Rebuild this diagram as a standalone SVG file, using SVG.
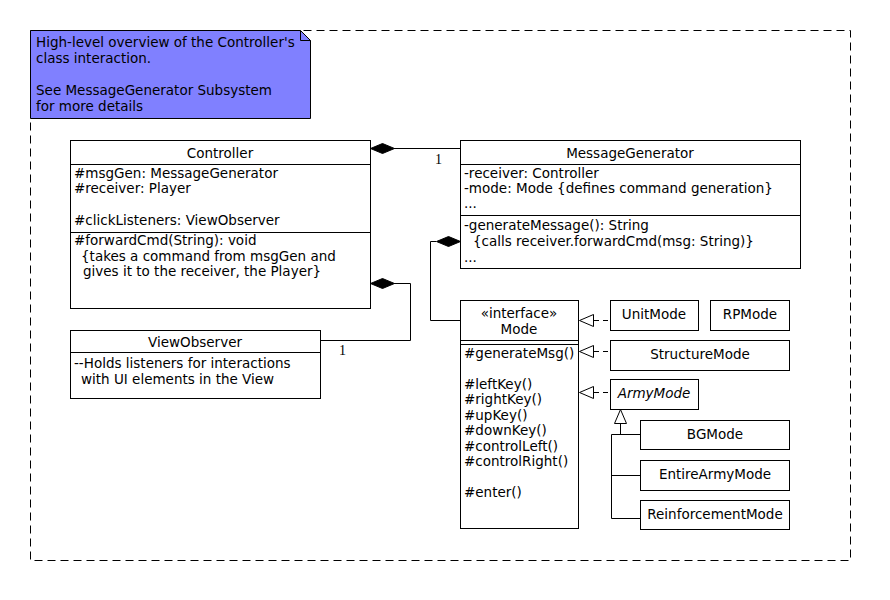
<svg xmlns="http://www.w3.org/2000/svg" width="890" height="600" viewBox="0 0 890 600">
<style>
text{font-family:"DejaVu Sans","Liberation Sans",sans-serif;font-size:13.5px;fill:#000}
.c{text-anchor:middle}
.m{font-family:"Liberation Serif","DejaVu Serif",serif;font-size:14px}
.box{fill:#fff;stroke:#000;stroke-width:1}
.ln{fill:none;stroke:#000;stroke-width:1}
.dash{fill:none;stroke:#000;stroke-width:1;stroke-dasharray:5,4}
.dia{fill:#000;stroke:#000}
.tri{fill:#fff;stroke:#000}
</style>
<rect x="0" y="0" width="890" height="600" fill="#fff"/>
<rect id="frame" x="30.5" y="30.5" width="820" height="530" fill="none" stroke="#000" stroke-dasharray="8,5"/>
<g id="note">
<path d="M30.5 30.5 H300.5 L310.5 40.5 V118.5 H30.5 Z" fill="#8080ff" stroke="#000"/>
<path d="M300.5 30.5 V40.5 H310.5" fill="none" stroke="#000"/>
<text x="36" y="47">High-level overview of the Controller's</text>
<text x="36" y="63">class interaction.</text>
<text x="36" y="95">See MessageGenerator Subsystem</text>
<text x="36" y="111">for more details</text>
</g>
<g id="connectors">
<path class="ln" d="M394 148.5 H460"/>
<path class="dia" d="M370.5 148.5 L382.5 143.5 L394.5 148.5 L382.5 153.5 Z"/>
<text class="m" x="435" y="164">1</text>
<path class="ln" d="M394 283.5 H410.5 V340.5 H320"/>
<path class="dia" d="M370.5 283.5 L382.5 278.5 L394.5 283.5 L382.5 288.5 Z"/>
<text class="m" x="339" y="355">1</text>
<path class="ln" d="M436 241.5 H430.5 V320.5 H460"/>
<path class="dia" d="M460.5 241.5 L448.5 236.5 L436.5 241.5 L448.5 246.5 Z"/>
<path class="dash" d="M594 320.5 H610"/>
<path class="tri" d="M579.5 320.5 L593.5 314.5 V326.5 Z"/>
<path class="dash" d="M594 351.5 H610"/>
<path class="tri" d="M579.5 351.5 L593.5 345.5 V357.5 Z"/>
<path class="dash" d="M594 392.5 H610"/>
<path class="tri" d="M579.5 392.5 L593.5 386.5 V398.5 Z"/>
<path class="tri" d="M620.5 409.5 L626.5 423.5 H614.5 Z"/>
<path class="ln" d="M620.5 423.5 V434.5 M611.5 434.5 H640 M611.5 434.5 V518.5 M611.5 475.5 H640 M611.5 518.5 H640"/>
</g>
<g id="Controller">
<rect class="box" x="70.5" y="140.5" width="300" height="168"/>
<path class="ln" d="M70.5 164.5 H370.5 M70.5 232.5 H370.5"/>
<text class="c" x="220" y="158">Controller</text>
<text x="74" y="178">#msgGen: MessageGenerator</text>
<text x="74" y="193">#receiver: Player</text>
<text x="74" y="225">#clickListeners: ViewObserver</text>
<text x="74" y="245">#forwardCmd(String): void</text>
<text x="81" y="261">{takes a command from msgGen and</text>
<text x="83" y="276">gives it to the receiver, the Player}</text>
</g>
<g id="MessageGenerator">
<rect class="box" x="460.5" y="140.5" width="340" height="128"/>
<path class="ln" d="M460.5 164.5 H800.5 M460.5 215.5 H800.5"/>
<text class="c" x="630" y="158">MessageGenerator</text>
<text x="464" y="178">-receiver: Controller</text>
<text x="464" y="193">-mode: Mode {defines command generation}</text>
<text x="464" y="208">...</text>
<text x="464" y="230">-generateMessage(): String</text>
<text x="473" y="246">{calls receiver.forwardCmd(msg: String)}</text>
<text x="464" y="262">...</text>
</g>
<g id="ViewObserver">
<rect class="box" x="70.5" y="330.5" width="250" height="68"/>
<path class="ln" d="M70.5 352.5 H320.5"/>
<text class="c" x="195" y="347">ViewObserver</text>
<text x="74" y="368">--Holds listeners for interactions</text>
<text x="81" y="384">with UI elements in the View</text>
</g>
<g id="Mode">
<rect class="box" x="460.5" y="300.5" width="118" height="228"/>
<path class="ln" d="M460.5 340.5 H578.5 M460.5 344.5 H578.5"/>
<text class="c" x="519" y="318">«interface»</text>
<text class="c" x="519" y="334">Mode</text>
<text x="464" y="358">#generateMsg()</text>
<text x="464" y="389">#leftKey()</text>
<text x="464" y="404">#rightKey()</text>
<text x="464" y="420">#upKey()</text>
<text x="464" y="435">#downKey()</text>
<text x="464" y="451">#controlLeft()</text>
<text x="464" y="466">#controlRight()</text>
<text x="464" y="497">#enter()</text>
</g>
<g id="UnitMode">
<rect class="box" x="610.5" y="300.5" width="88" height="30"/>
<text class="c" x="654" y="319">UnitMode</text>
</g>
<g id="RPMode">
<rect class="box" x="710.5" y="300.5" width="79" height="30"/>
<text class="c" x="750" y="319">RPMode</text>
</g>
<g id="StructureMode">
<rect class="box" x="610.5" y="340.5" width="179" height="30"/>
<text class="c" x="700" y="359">StructureMode</text>
</g>
<g id="ArmyMode">
<rect class="box" x="610.5" y="379.5" width="88" height="30"/>
<text class="c" x="654" y="398" font-style="italic">ArmyMode</text>
</g>
<g id="BGMode">
<rect class="box" x="640.5" y="420.5" width="149" height="29"/>
<text class="c" x="715" y="439">BGMode</text>
</g>
<g id="EntireArmyMode">
<rect class="box" x="640.5" y="460.5" width="149" height="30"/>
<text class="c" x="715" y="479">EntireArmyMode</text>
</g>
<g id="ReinforcementMode">
<rect class="box" x="640.5" y="500.5" width="149" height="29"/>
<text class="c" x="715" y="519">ReinforcementMode</text>
</g>
</svg>
